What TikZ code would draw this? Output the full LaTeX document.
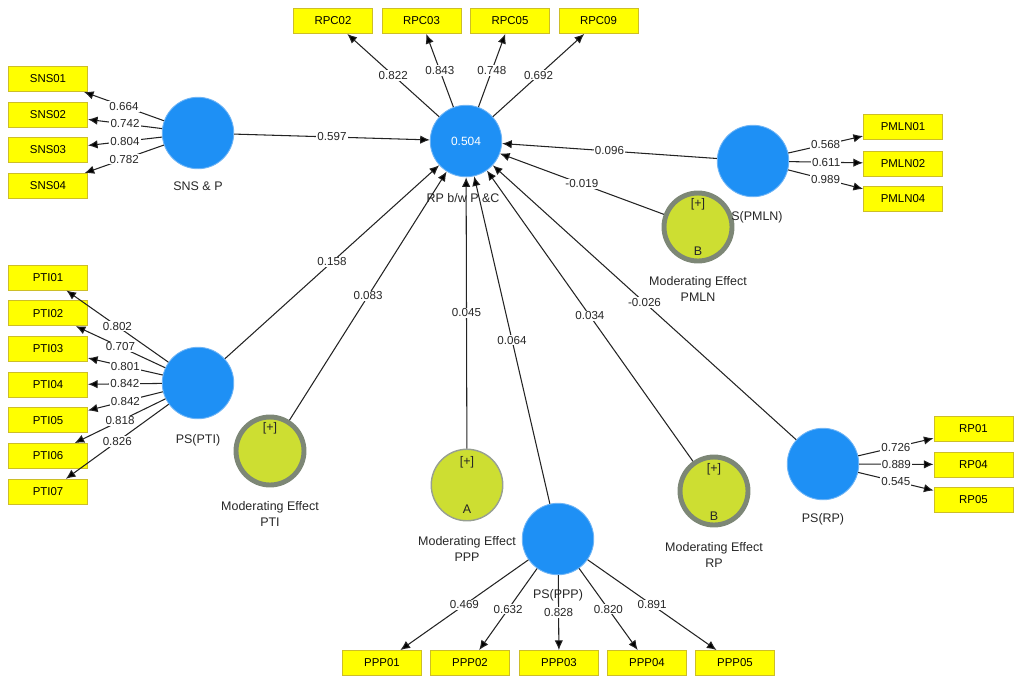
\documentclass[tikz,border=0pt]{standalone}
\usepackage{fontspec}
\setmainfont{Liberation Sans}
\usetikzlibrary{arrows.meta,positioning}
\definecolor{lvblue}{RGB}{30,144,245}
\definecolor{lvrim}{RGB}{110,180,245}
\definecolor{boxyel}{RGB}{255,255,0}
\definecolor{boxrim}{RGB}{205,190,40}
\definecolor{modgreen}{RGB}{205,222,50}
\definecolor{modring}{RGB}{125,135,118}
\definecolor{linegray}{RGB}{35,35,35}

\begin{document}
\begin{tikzpicture}[x=0.02cm,y=-0.02cm,
  lv/.style={circle,fill=lvblue,draw=lvrim,line width=0.5pt,minimum size=1.43cm,inner sep=0pt},
  mod/.style={circle,fill=modgreen,draw=modring,line width=2.8pt,minimum size=1.36cm,inner sep=0pt},
  modthin/.style={circle,fill=modgreen,draw=modring!80,line width=0.8pt,minimum size=1.43cm,inner sep=0pt},
  ind/.style={rectangle,fill=boxyel,draw=boxrim,line width=0.5pt,minimum width=1.58cm,minimum height=0.5cm,inner sep=0pt,font=\fontsize{6.5}{7}\selectfont},
  lvtext/.style={inner sep=1pt,align=center,text=black!85,font=\fontsize{7.1}{9}\selectfont},
  w/.style={fill=white,inner sep=0.6pt,text=black!85,font=\fontsize{6.6}{7}\selectfont},
  ld/.style={->,>={Latex[length=5.5pt,width=4.8pt]},draw=linegray,line width=0.6pt}]
\useasboundingbox (0,0) rectangle (1021,684);

% latent variables
\node[lv,text=white,font=\fontsize{6.8}{7}\selectfont] (RP) at (466,141) {0.504};
\node[lv] (SNS) at (198,133) {};
\node[lv] (PTI) at (198,383) {};
\node[lv] (PMLN) at (753,161) {};
\node[lv] (PRP) at (823,464) {};
\node[lv] (PPP) at (558,539) {};

% moderating effects
\node[mod] (MPMLN) at (698,227) {};
\node[mod] (MPTI) at (270,451) {};
\node[modthin] (MPPP) at (467,485) {};
\node[mod] (MRP) at (714,491) {};

\node[lvtext] (MPMLNp) at (698,204) {[+]};
\node[lvtext] (MPMLNb) at (698,251) {B};
\node[lvtext] (MPTIp) at (270,428) {[+]};
\node[lvtext] (MPPPp) at (467,462) {[+]};
\node[lvtext] (MPPPa) at (467,509) {A};
\node[lvtext] (MRPp) at (714,469) {[+]};
\node[lvtext] (MRPb) at (714,516) {B};

% captions
\node[lvtext] (RPcap) at (463,198) {RP b/w P \&C};
\node[lvtext] (SNScap) at (198,186) {SNS \& P};
\node[lvtext] (PTIcap) at (198,440) {PS(PTI)};
\node[lvtext] (PMLNcap) at (757,217) {S(PMLN)};
\node[lvtext] (PRPcap) at (823,519) {PS(RP)};
\node[lvtext] (PPPcap) at (558,595) {PS(PPP)};
\node[lvtext] (MPMLNcap) at (698,289) {Moderating Effect\\PMLN};
\node[lvtext] (MPTIcap) at (270,514) {Moderating Effect\\PTI};
\node[lvtext] (MPPPcap) at (467,549) {Moderating Effect\\PPP};
\node[lvtext] (MRPcap) at (714,555) {Moderating Effect\\RP};

% indicators
\node[ind] (S1) at (48,79) {SNS01};
\node[ind] (S2) at (48,114.5) {SNS02};
\node[ind] (S3) at (48,150) {SNS03};
\node[ind] (S4) at (48,186) {SNS04};

\node[ind] (C1) at (333,21) {RPC02};
\node[ind] (C2) at (421.5,21) {RPC03};
\node[ind] (C3) at (510,21) {RPC05};
\node[ind] (C4) at (598.5,21) {RPC09};

\node[ind] (M1) at (903,127) {PMLN01};
\node[ind] (M2) at (903,163.5) {PMLN02};
\node[ind] (M3) at (903,199) {PMLN04};

\node[ind] (T1) at (48,277.5) {PTI01};
\node[ind] (T2) at (48,313.2) {PTI02};
\node[ind] (T3) at (48,349) {PTI03};
\node[ind] (T4) at (48,384.7) {PTI04};
\node[ind] (T5) at (48,420.4) {PTI05};
\node[ind] (T6) at (48,456) {PTI06};
\node[ind] (T7) at (48,491.8) {PTI07};

\node[ind] (R1) at (973.5,429) {RP01};
\node[ind] (R2) at (973.5,464.5) {RP04};
\node[ind] (R3) at (973.5,500) {RP05};

\node[ind] (P1) at (382,663) {PPP01};
\node[ind] (P2) at (470,663) {PPP02};
\node[ind] (P3) at (559,663) {PPP03};
\node[ind] (P4) at (647,663) {PPP04};
\node[ind] (P5) at (735,663) {PPP05};

% outer loadings
\path[ld] (SNS) edge node[w]{0.664} (S1);
\path[ld] (SNS) edge node[w]{0.742} (S2);
\path[ld] (SNS) edge node[w]{0.804} (S3);
\path[ld] (SNS) edge node[w]{0.782} (S4);

\path[ld] (RP) edge node[w]{0.822} (C1);
\path[ld] (RP) edge node[w]{0.843} (C2);
\path[ld] (RP) edge node[w]{0.748} (C3);
\path[ld] (RP) edge node[w]{0.692} (C4);

\path[ld] (PMLN) edge node[w]{0.568} (M1);
\path[ld] (PMLN) edge node[w]{0.611} (M2);
\path[ld] (PMLN) edge node[w]{0.989} (M3);

\path[ld] (PTI) edge node[w]{0.802} (T1);
\path[ld] (PTI) edge node[w]{0.707} (T2);
\path[ld] (PTI) edge node[w]{0.801} (T3);
\path[ld] (PTI) edge node[w]{0.842} (T4);
\path[ld] (PTI) edge node[w]{0.842} (T5);
\path[ld] (PTI) edge node[w]{0.818} (T6);
\path[ld] (PTI) edge node[w]{0.826} (T7);

\path[ld] (PRP) edge node[w]{0.726} (R1);
\path[ld] (PRP) edge node[w]{0.889} (R2);
\path[ld] (PRP) edge node[w]{0.545} (R3);

\path[ld] (PPP) edge node[w]{0.469} (P1);
\path[ld] (PPP) edge node[w]{0.632} (P2);
\path[ld] (PPP) edge node[w]{0.828} (P3);
\path[ld] (PPP) edge node[w]{0.820} (P4);
\path[ld] (PPP) edge node[w]{0.891} (P5);

% path coefficients
\path[ld] (SNS) edge node[w]{0.597} (RP);
\path[ld] (PMLN) edge node[w]{0.096} (RP);
\path[ld] (MPMLN) edge node[w]{-0.019} (RP);
\path[ld] (PTI) edge node[w]{0.158} (RP);
\path[ld] (MPTI) edge node[w]{0.083} (RP);
\path[ld] (MPPP) edge node[w]{0.045} (RP);
\path[ld] (PPP) edge node[w]{0.064} (RP);
\path[ld] (MRP) edge node[w]{0.034} (RP);
\path[ld] (PRP) edge node[w]{-0.026} (RP);
\end{tikzpicture}
\end{document}
